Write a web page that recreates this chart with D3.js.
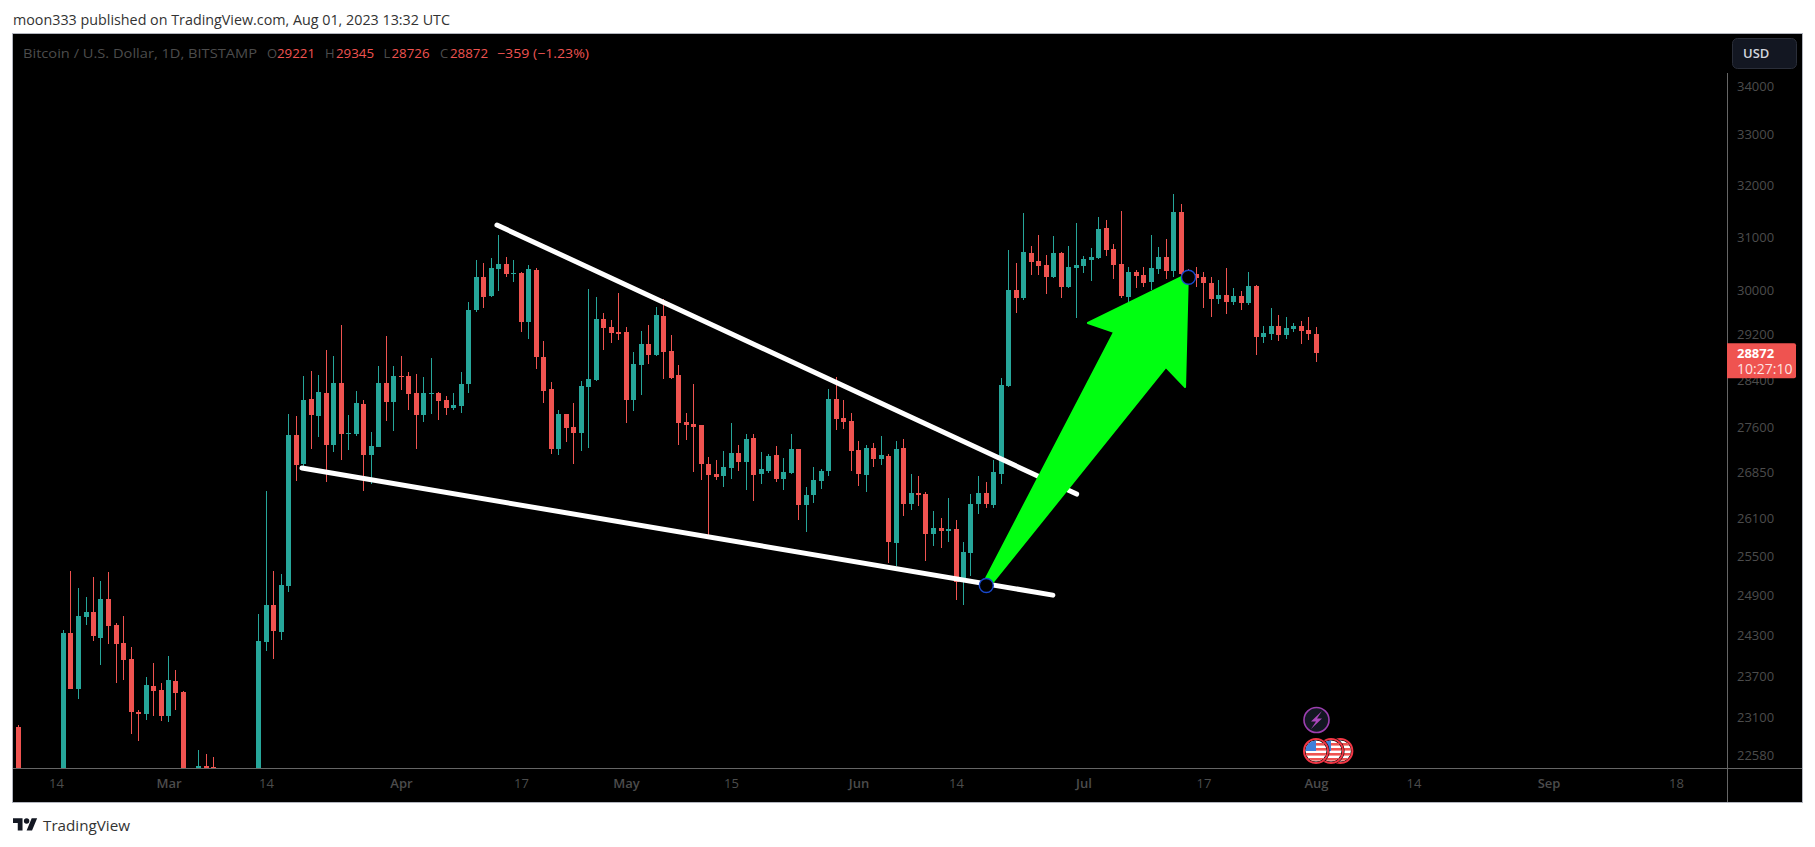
<!DOCTYPE html>
<html>
<head>
<meta charset="utf-8">
<script src="https://cdn.jsdelivr.net/npm/d3@7"></script>
<style>
html,body{margin:0;padding:0;background:#fff;overflow:hidden}
svg{display:block}
text{font-family:"Open Sans",sans-serif}
</style>
</head>
<body>
<svg id="c" width="1815" height="847"></svg>
<script>
// Daily candles, 9 Feb 2023 .. 1 Aug 2023 (one value per day)
const firstDate = "2023-02-09";
const opens = [
22967,21800,21630,21860,21780,21780,22200,24328,23508,24567,24642,24254,24839,24447,24180,23944,23180,23151,23552,23494,
23123,23624,23465,22350,22350,22426,22412,22200,21700,20360,20190,20620,22150,24194,24748,24342,25038,27462,26979,28074,27783,28177,27295,28350,27488,27479,27988,27128,27261,28350,28022,
28472,28472,28177,27800,28168,28177,28057,27919,27954,28333,29645,30251,29901,30399,30492,30316,30325,29429,30380,28805,28246,27228,27817,27597,27496,28281,28402,29483,29339,29249,
29249,28057,28665,29035,28840,29537,28911,28490,27681,27647,27630,26979,26814,26782,26913,27161,27012,27412,26814,26864,27128,26732,26831,27228,26310,26472,26700,26864,28074,27749,27698,
27211,26798,27244,27062,27111,25706,27244,26326,26504,26488,25848,25943,25895,25927,25099,25549,26326,26504,26310,26814,28298,30011,29864,30698,30547,30473,30251,30698,30066,30417,
30454,30566,30604,31172,30773,30492,29882,30343,30288,30158,30399,30622,30362,31478,30306,30306,30251,30140,29845,29919,29791,29901,29773,30085,29160,29213,29357,29195,29303,29357,29285,
29221];
const highs = [
22996,21900,21900,22050,21900,22300,24372,25269,25002,24870,25176,25115,25253,24477,24582,24120,23208,23681,23885,23595,
23988,23783,23480,22390,22647,22591,22550,22250,21800,20450,20800,22150,24612,26537,25269,25222,27817,27783,28472,28560,28490,28929,28823,29375,27800,28212,28057,27512,28647,29178,28647,
28823,28542,28507,28454,28788,28195,28126,28177,28542,29791,30566,30510,30604,31038,30622,30566,30343,30473,30417,29088,28367,27885,27817,28005,28385,30030,29882,29591,29465,29956,
29339,28894,29267,29375,29700,29845,29195,28665,27834,28333,27630,27095,27045,27194,27664,27295,27479,27479,27178,27145,27278,27078,27479,27228,26602,26929,26896,28246,28454,28057,27834,
27361,27295,27328,27445,27145,27361,27395,26814,26782,26521,26214,26102,26423,26070,25722,26488,26782,26683,27045,28437,30754,30510,31459,30830,31038,30660,31019,30716,30830,31267,
30641,30792,31382,31324,30867,31497,30436,30380,30436,31038,30811,30962,31825,31632,30399,30436,30343,30251,30195,30417,30048,29993,30343,30103,29357,29682,29555,29519,29411,29447,29519,
29345];
const lows = [
21700,21600,21600,21600,21350,21550,22050,23508,23364,24447,24209,23856,24165,23595,23638,22869,22772,23066,23123,23052,
23038,23208,22250,22150,22250,22300,21950,21600,20050,19550,20000,20450,21900,24061,23944,24224,24946,26700,26880,27228,27428,26683,27178,27045,27211,27445,26537,26651,27255,27698,27529,
28229,27885,27228,27681,27817,27715,27800,27885,27834,28177,29609,29682,29882,29993,30251,30158,29249,29124,28595,28005,27145,27128,27345,26979,27194,27244,28385,28929,29053,29106,
27664,27868,28143,28682,28823,28420,28420,27295,27378,26847,26716,25832,26716,26602,26732,26864,26553,26375,26651,26831,26683,26553,26814,26070,25879,26343,26569,26782,27546,27563,26864,
26618,26521,26929,26962,25392,25346,26134,26230,26294,25423,25659,25627,25722,24824,24748,25192,26166,26262,26262,26651,28281,29591,29827,30288,30288,29938,30232,29864,30048,29501,
30325,30177,30585,30641,30214,29864,29791,30048,30066,30011,30306,30214,30251,30103,30250,30066,29682,29519,29754,29573,29736,29645,29736,28840,29053,29106,29088,29124,29249,29035,29106,
28726];
const closes = [
21800,21630,21860,21780,21780,22200,24328,23508,24582,24642,24283,24839,24432,24165,23929,23180,23151,23566,23480,23123,
23638,23451,22350,22350,22426,22380,22200,21700,20360,20190,20620,22150,24209,24748,24357,25053,27462,26962,28057,27800,28195,27295,28350,27479,27496,28005,27128,27278,28350,28022,28472,
28455,28160,27800,28177,28177,28040,27919,27971,28333,29645,30251,29882,30417,30492,30306,30325,29429,30399,28805,28212,27228,27817,27580,27496,28298,28420,29483,29321,29231,29213,
28057,28682,29035,28840,29555,28894,28437,27664,27630,27597,26979,26798,26765,26929,27161,27012,27395,26798,26896,27111,26732,26847,27228,26310,26472,26716,26864,28074,27732,27681,27194,
26814,27244,27062,27128,25722,27228,26326,26504,26472,25848,25943,25895,25927,25099,25565,26326,26504,26326,26847,28315,30011,29864,30716,30529,30454,30251,30698,30066,30436,30473,
30585,30622,31153,30754,30473,29901,30343,30269,30140,30417,30622,30362,31478,30306,30290,30232,30140,29845,29919,29791,29901,29773,30085,29160,29231,29357,29195,29321,29357,29267,29213,
28872];

const priceTicks = [34000,33000,32000,31000,30000,29200,28400,27600,26850,26100,25500,24900,24300,23700,23100,22580];
const timeTickDates = ["2023-02-14","2023-03-01","2023-03-14","2023-04-01","2023-04-17","2023-05-01","2023-05-15","2023-06-01","2023-06-14","2023-07-01","2023-07-17","2023-08-01","2023-08-14","2023-09-01","2023-09-18"];
const timeTickLabels = ["14","Mar","14","Apr","17","May","15","Jun","14","Jul","17","Aug","14","Sep","18"];

// Drawings as [date, price]
const upperTrend = [["2023-04-13T19:00Z",31228],["2023-06-30T02:00Z",26488]];
const lowerTrend = [["2023-03-18T19:00Z",26913],["2023-06-26T22:00Z",24900]];
const arrowOutline = [
 ["2023-06-18T00:00Z",25161],["2023-07-05T02:00Z",29249],["2023-07-01T14:00Z",29411],
 ["2023-07-14T22:00Z",30306],["2023-07-14T13:00Z",28281],["2023-07-12T00:00Z",28630],["2023-06-18T22:00Z",25099]];
const anchorPoints = [["2023-06-18T01:00Z",25048],["2023-07-15T00:00Z",30245]];

const flagDates = ["2023-08-04T06:00Z","2023-08-03T00:00Z","2023-08-01T00:00Z"];

const TEAL="#26a69a", RED="#ef5350", GREY="#4c4c4c", GREEN="#00ff11";
const pane={l:13,t:34,r:1727,b:768,fr:1802,fb:802};

const x = d3.scaleUtc().domain([new Date("2023-03-14"),new Date("2023-08-01")]).range([266,1316]);
const y = d3.scaleLog().domain([35099,22401]).range([pane.t,pane.b]);

const svg = d3.select("#c");
const defs = svg.append("defs");
defs.append("clipPath").attr("id","pane").append("rect")
  .attr("x",pane.l).attr("y",pane.t).attr("width",pane.r-pane.l).attr("height",pane.b-pane.t);

// frame
svg.append("rect").attr("x",pane.l-.5).attr("y",pane.t-.5).attr("width",pane.fr-pane.l+1).attr("height",pane.fb-pane.t+1)
  .attr("fill","#000").attr("stroke","#b2b5be");

// header
svg.append("text").attr("x",13).attr("y",25).attr("font-size",14).attr("fill","#333")
  .attr("textLength",437).attr("lengthAdjust","spacingAndGlyphs")
  .text("moon333 published on TradingView.com, Aug 01, 2023 13:32 UTC");

// legend
const legend=[
 [23,"Bitcoin / U.S. Dollar, 1D, BITSTAMP",GREY,234],
 [267,"O",GREY,0],[277,"29221",RED,38],[325,"H",GREY,0],[336,"29345",RED,38],
 [383.5,"L",GREY,0],[391.5,"28726",RED,38],[440,"C",GREY,0],[450,"28872",RED,38],
 [497,"\u2212359 (\u22121.23%)",RED,92]];
legend.forEach(([lx,t,col,len])=>{
  const e=svg.append("text").attr("x",lx).attr("y",58).attr("font-size",13).attr("fill",col).text(t);
  if(len) e.attr("textLength",len).attr("lengthAdjust","spacingAndGlyphs");
});

// candles
const candles = opens.map((o,i)=>({date:d3.utcDay.offset(new Date(firstDate),i),o,h:highs[i],l:lows[i],c:closes[i]}));
const g = svg.append("g").attr("clip-path","url(#pane)");
const col = d=>d.c>=d.o?TEAL:RED;
g.selectAll("rect.w").data(candles).join("rect").attr("class","w")
  .attr("x",d=>Math.floor(x(d.date))).attr("width",1)
  .attr("y",d=>Math.round(y(d.h))).attr("height",d=>Math.max(1,Math.round(y(d.l))-Math.round(y(d.h))))
  .attr("fill",col);
g.selectAll("rect.b").data(candles).join("rect").attr("class","b")
  .attr("x",d=>Math.floor(x(d.date))-2).attr("width",5)
  .attr("y",d=>Math.round(y(Math.max(d.o,d.c))))
  .attr("height",d=>Math.max(1,Math.round(y(Math.min(d.o,d.c)))-Math.round(y(Math.max(d.o,d.c)))))
  .attr("fill",col);

// drawings
const pt = ([d,p])=>[x(new Date(d)),y(p)];
const line = d3.line();
[upperTrend,lowerTrend].forEach(t=>{
  g.append("path").attr("d",line(t.map(pt))).attr("fill","none").attr("stroke","#fff")
   .attr("stroke-width",5).attr("stroke-linecap","round");
});
g.append("path").attr("d",line(arrowOutline.map(pt))+"Z").attr("fill",GREEN).attr("stroke",GREEN)
  .attr("stroke-width",2).attr("stroke-linejoin","round");
anchorPoints.forEach(a=>{
  const [ax,ay]=pt(a);
  g.append("circle").attr("cx",ax).attr("cy",ay).attr("r",7).attr("fill","#000")
   .attr("stroke","#1848cc").attr("stroke-width",1.4);
});

// axis frames
svg.append("line").attr("x1",pane.l).attr("x2",pane.fr).attr("y1",pane.b+.5).attr("y2",pane.b+.5).attr("stroke","#666");
svg.append("line").attr("x1",pane.r+.5).attr("x2",pane.r+.5).attr("y1",73).attr("y2",pane.fb).attr("stroke","#666");

// time axis
const axB = d3.axisBottom(x).tickValues(timeTickDates.map(d=>new Date(d))).tickSize(0).tickPadding(11)
  .tickFormat((d,i)=>timeTickLabels[i]);
const gx = svg.append("g").attr("transform",`translate(0,${pane.b})`).call(axB);
gx.select(".domain").remove();
gx.selectAll("text").attr("font-size",13).attr("fill",GREY)
  .attr("font-weight",(d,i)=>isNaN(+timeTickLabels[i])?600:400)
  .style("font-family",'"Open Sans",sans-serif');

// price axis
const axR = d3.axisRight(y).tickValues(priceTicks).tickSize(0).tickPadding(10).tickFormat(d3.format("d"));
const gy = svg.append("g").attr("transform",`translate(${pane.r},0)`).call(axR);
gy.select(".domain").remove();
gy.selectAll("text").attr("font-size",13).attr("fill",GREY).style("font-family",'"Open Sans",sans-serif');

// last price tag
const lastP = closes[closes.length-1], ly = y(lastP);
svg.append("path").attr("d",`M${pane.r} ${ly-10}H1794a2 2 0 0 1 2 2V${ly+23}a2 2 0 0 1 -2 2H${pane.r}Z`).attr("fill",RED);
svg.append("text").attr("x",1737).attr("y",ly+5).attr("font-size",13).attr("font-weight",700).attr("fill","#fff").text(lastP);
svg.append("text").attr("x",1737).attr("y",ly+21).attr("font-size",14).attr("fill","#fff").attr("fill-opacity",.85).text("10:27:10");

// USD button
svg.append("rect").attr("x",1732.5).attr("y",38.5).attr("width",64).attr("height",30).attr("rx",5)
  .attr("fill","#131722").attr("stroke","#2a2e39");
svg.append("text").attr("x",1743).attr("y",58).attr("font-size",13).attr("font-weight",600).attr("fill","#d1d4dc").text("USD");

// events
const evY = 751;
flagDates.forEach((d,k)=>{
  const cx = x(new Date(d));
  const cid="fl"+k;
  defs.append("clipPath").attr("id",cid).append("circle").attr("cx",cx).attr("cy",evY).attr("r",10.5);
  svg.append("circle").attr("cx",cx).attr("cy",evY).attr("r",13.5).attr("fill","#000");
  const f=svg.append("g").attr("clip-path",`url(#${cid})`);
  f.append("rect").attr("x",cx-11).attr("y",evY-11).attr("width",22).attr("height",22).attr("fill","#fff");
  [-8,-3,2,7].forEach(dy=>f.append("rect").attr("x",cx-11).attr("y",evY+dy).attr("width",22).attr("height",2.6).attr("fill","#ef5350"));
  f.append("rect").attr("x",cx-11).attr("y",evY-11).attr("width",11).attr("height",11).attr("fill","#3f7fd9");
  svg.append("circle").attr("cx",cx).attr("cy",evY).attr("r",12).attr("fill","none").attr("stroke","#f23645").attr("stroke-width",2);
});
svg.append("circle").attr("cx",1316.5).attr("cy",720).attr("r",12.5).attr("fill","#131722").attr("stroke","#9c3fb0").attr("stroke-width",1.6);
svg.append("path").attr("d","M1322 711l-11 10.5h5l-5 7.5 11-10.5h-5z").attr("fill","#ab47bc");

// logo + wordmark
const logo=svg.append("g").attr("transform","translate(13,815.5) scale(.68)").attr("fill","#131722");
logo.append("path").attr("d","M14 22H7V11H0V4h14v18zM28 22h-8l7.5-18h8L28 22z");
logo.append("circle").attr("cx",20).attr("cy",8).attr("r",4);
svg.append("text").attr("x",43).attr("y",831).attr("font-size",15).attr("fill","#333")
  .attr("textLength",87).attr("lengthAdjust","spacingAndGlyphs").text("TradingView");
</script>
</body>
</html>
